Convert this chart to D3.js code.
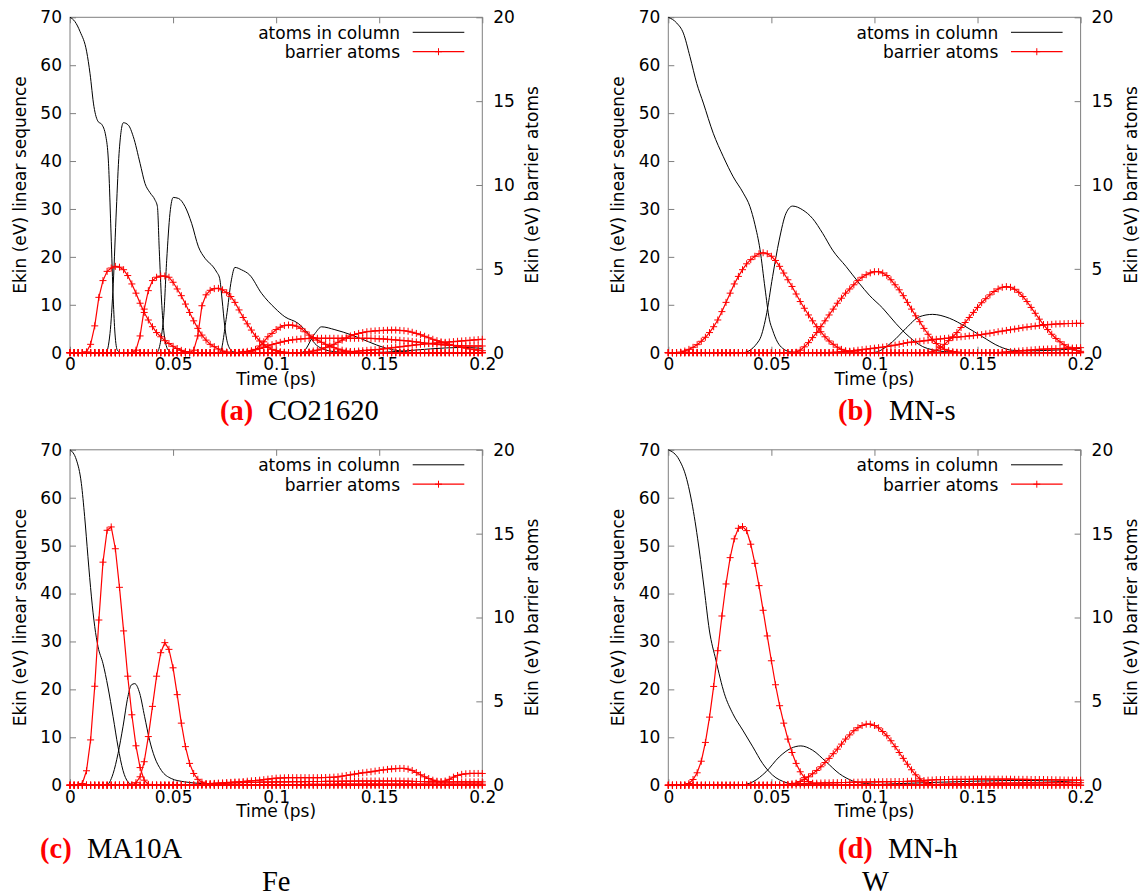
<!DOCTYPE html>
<html><head><meta charset="utf-8">
<script src="https://cdn.jsdelivr.net/npm/d3@7"></script>
<style>body{margin:0;background:#fff}svg{display:block}</style>
</head><body>
<svg id="chart" width="1143" height="896"></svg>
<script>
// ---------- data ----------
const xTicks = [0, 0.05, 0.1, 0.15, 0.2];
const xTickLabels = ["0", "0.05", "0.1", "0.15", "0.2"];
const yLeftTicks = [0, 10, 20, 30, 40, 50, 60, 70];
const yRightTicks = [0, 5, 10, 15, 20];
const legendLabels = ["atoms in column", "barrier atoms"];
const xTitle = "Time (ps)";
const yLeftTitle = "Ekin (eV) linear sequence";
const yRightTitle = "Ekin (eV) barrier atoms";

// sampling times (ps) of the barrier-atom series
const timeGrid = [0,0.002,0.004,0.006,0.008,0.01,0.012,0.014,0.016,0.018,
0.02,0.022,0.024,0.026,0.028,0.03,0.032,0.034,0.036,0.038,
0.04,0.042,0.044,0.046,0.048,0.05,0.052,0.054,0.056,0.058,
0.06,0.062,0.064,0.066,0.068,0.07,0.072,0.074,0.076,0.078,
0.08,0.082,0.084,0.086,0.088,0.09,0.092,0.094,0.096,0.098,
0.1,0.102,0.104,0.106,0.108,0.11,0.112,0.114,0.116,0.118,
0.12,0.122,0.124,0.126,0.128,0.13,0.132,0.134,0.136,0.138,
0.14,0.142,0.144,0.146,0.148,0.15,0.152,0.154,0.156,0.158,
0.16,0.162,0.164,0.166,0.168,0.17,0.172,0.174,0.176,0.178,
0.18,0.182,0.184,0.186,0.188,0.19,0.192,0.194,0.196,0.198,0.2];

// ---- panel (a) CO21620 ----
const colA1 = [[0,70],[0.0024,69.1],[0.0049,67],[0.0081,62.8],[0.0097,58.3],[0.0116,51.4],[0.0137,48.2],[0.0153,47.7],[0.0174,45.1],[0.0186,40.2],[0.0199,25],[0.021,11],[0.0218,4.1],[0.023,0.5],[0.025,0],[0.2,0]];
const colA2 = [[0,0],[0.0174,0],[0.0194,4],[0.021,14.5],[0.0225,30],[0.0238,41.6],[0.0259,48],[0.0283,47.5],[0.0307,45.1],[0.034,39.5],[0.0364,35.3],[0.0388,33.4],[0.0412,31.9],[0.0424,30.5],[0.0433,21.5],[0.0444,11],[0.0456,4.1],[0.0477,0.5],[0.05,0],[0.2,0]];
const colA3 = [[0,0],[0.042,0],[0.0453,6.8],[0.0469,19.3],[0.0485,29.1],[0.0501,32.4],[0.0526,32.2],[0.0558,30.5],[0.059,27],[0.0623,22.1],[0.0655,19.7],[0.0695,17.9],[0.0712,16.8],[0.0726,15.5],[0.0738,11],[0.0751,5.4],[0.0767,1.6],[0.0791,0.2],[0.081,0],[0.2,0]];
const colA4 = [[0,0],[0.0727,0],[0.0759,7.5],[0.0783,15.2],[0.08,17.8],[0.0832,17.3],[0.0872,16.2],[0.0929,12.4],[0.0994,9.3],[0.1042,7.5],[0.1107,6.1],[0.1155,4],[0.1188,1.9],[0.122,0.9],[0.1285,0.2],[0.135,0],[0.2,0]];
const colA5 = [[0,0],[0.1123,0],[0.1188,4],[0.122,5.4],[0.1285,4.8],[0.1366,3.7],[0.1447,2.3],[0.1528,1],[0.161,0.3],[0.168,0],[0.2,0]];
const colA6 = [[0,0],[0.145,0],[0.16,0.3],[0.175,0.8],[0.19,1.1],[0.2,0.9]];

const barA1 = [0,0,0,0,0.05,0.5,1.6,3.3,4.3,4.85,
5.05,5.15,5.1,4.95,4.6,4.1,3.55,2.95,2.4,1.95,
1.55,1.2,0.95,0.72,0.55,0.38,0.25,0.14,0.07,0.03,
0,0,0,0,0,0,0,0,0,0, 0,0,0,0,0,0,0,0,0,0, 0,0,0,0,0,0,0,0,0,0,
0,0,0,0,0,0,0,0,0,0, 0,0,0,0,0,0,0,0,0,0, 0,0,0,0,0,0,0,0,0,0,
0,0,0,0,0,0,0,0,0,0, 0];
const barA2 = [0,0,0,0,0,0,0,0,0,0,
0,0,0,0,0,0,0.15,1.0,2.6,3.7,
4.3,4.5,4.57,4.57,4.5,4.2,3.8,3.4,2.9,2.4,
1.9,1.45,1.05,0.75,0.5,0.36,0.22,0.1,0.04,0,
0,0,0,0,0,0,0,0,0,0, 0,0,0,0,0,0,0,0,0,0, 0,0,0,0,0,0,0,0,0,0,
0,0,0,0,0,0,0,0,0,0, 0,0,0,0,0,0,0,0,0,0, 0,0,0,0,0,0,0,0,0,0, 0];
const barA3 = [0,0,0,0,0,0,0,0,0,0, 0,0,0,0,0,0,0,0,0,0, 0,0,0,0,0,0,0,0,0,0,
0.15,1.0,2.8,3.45,3.72,3.82,3.84,3.75,3.58,3.35,
3.0,2.55,2.1,1.72,1.35,0.98,0.7,0.48,0.32,0.2,
0.12,0.06,0.03,0,0,0,0,0,0,0,
0,0,0,0,0,0,0,0,0,0, 0,0,0,0,0,0,0,0,0,0, 0,0,0,0,0,0,0,0,0,0, 0,0,0,0,0,0,0,0,0,0, 0];
const barA4 = [0,0,0,0,0,0,0,0,0,0, 0,0,0,0,0,0,0,0,0,0, 0,0,0,0,0,0,0,0,0,0, 0,0,0,0,0,0,0,0,0,0,
0,0,0,0,0.05,0.2,0.4,0.65,0.95,1.15,
1.38,1.52,1.62,1.65,1.64,1.58,1.45,1.25,1.05,0.9,
0.75,0.62,0.5,0.4,0.3,0.22,0.15,0.1,0.06,0.03,
0,0,0,0,0,0,0,0,0,0, 0,0,0,0,0,0,0,0,0,0, 0,0,0,0,0,0,0,0,0,0, 0];
const barA5 = [0,0,0,0,0,0,0,0,0,0, 0,0,0,0,0,0,0,0,0,0, 0,0,0,0,0,0,0,0,0,0, 0,0,0,0,0,0,0,0,0,0,
0,0.02,0.05,0.08,0.12,0.18,0.25,0.32,0.4,0.48,
0.55,0.62,0.68,0.73,0.77,0.8,0.82,0.84,0.85,0.86,
0.86,0.86,0.86,0.86,0.86,0.86,0.86,0.86,0.86,0.86,
0.86,0.86,0.86,0.85,0.84,0.83,0.82,0.8,0.78,0.76,
0.74,0.72,0.7,0.67,0.64,0.61,0.58,0.55,0.52,0.5,
0.48,0.46,0.44,0.43,0.42,0.41,0.4,0.4,0.4,0.4, 0.4];
const barA6 = [0,0,0,0,0,0,0,0,0,0, 0,0,0,0,0,0,0,0,0,0, 0,0,0,0,0,0,0,0,0,0, 0,0,0,0,0,0,0,0,0,0, 0,0,0,0,0,0,0,0,0,0,
0,0,0,0,0,0,0,0.02,0.05,0.1,
0.15,0.22,0.3,0.4,0.5,0.62,0.75,0.88,1.0,1.08,
1.15,1.2,1.25,1.28,1.3,1.32,1.33,1.34,1.35,1.35,
1.33,1.31,1.28,1.22,1.15,1.07,0.98,0.89,0.8,0.72,
0.65,0.57,0.5,0.44,0.38,0.32,0.27,0.22,0.18,0.15, 0.12];
const barA7 = [0,0,0,0,0,0,0,0,0,0, 0,0,0,0,0,0,0,0,0,0, 0,0,0,0,0,0,0,0,0,0, 0,0,0,0,0,0,0,0,0,0, 0,0,0,0,0,0,0,0,0,0, 0,0,0,0,0,0,0,0,0,0,
0,0,0,0,0,0.01,0.03,0.05,0.07,0.08,
0.1,0.12,0.14,0.16,0.18,0.2,0.23,0.26,0.29,0.32,
0.35,0.38,0.41,0.44,0.47,0.5,0.52,0.54,0.56,0.58,
0.6,0.62,0.64,0.66,0.68,0.7,0.72,0.74,0.76,0.78, 0.8];

// ---- panel (b) MN-s ----
const colB1 = [[0,70],[0.0041,68.8],[0.0073,66.7],[0.0105,61.8],[0.0138,56.2],[0.017,52.1],[0.0218,45.8],[0.0267,40.9],[0.0315,36.7],[0.0364,33.3],[0.0396,30.5],[0.042,26.8],[0.0445,21.5],[0.0469,13.5],[0.049,7],[0.0506,4.7],[0.053,2.2],[0.0555,0.9],[0.06,0.1],[0.065,0],[0.2,0]];
const colB2 = [[0,0],[0.0361,0],[0.0441,2.6],[0.0474,7.5],[0.0506,15.9],[0.0538,23.5],[0.0571,29.1],[0.0603,30.6],[0.0652,29.8],[0.07,28],[0.0749,24.9],[0.0797,21.4],[0.0862,18],[0.0926,14.5],[0.0975,12],[0.104,9.3],[0.1104,6.1],[0.1169,3.3],[0.1233,1.3],[0.1282,0.6],[0.135,0.2],[0.145,0],[0.2,0]];
const colB3 = [[0,0],[0.0991,0],[0.1088,2.3],[0.1153,5.1],[0.1218,7.5],[0.1282,8],[0.1363,7.2],[0.1444,5.4],[0.1525,3.3],[0.1606,1.3],[0.167,0.5],[0.1767,0.4],[0.19,0.6],[0.2,0.9]];

const barB1 = [0,0,0,0.03,0.1,0.2,0.32,0.48,0.68,0.92,
1.2,1.55,1.95,2.45,3.0,3.55,4.1,4.55,4.95,5.3,
5.55,5.75,5.9,5.96,5.9,5.75,5.5,5.15,4.75,4.35,
3.95,3.5,3.05,2.65,2.25,1.9,1.55,1.25,0.95,0.7,
0.5,0.33,0.2,0.12,0.07,0.04,0.02,0,0,0,
0,0,0,0,0,0,0,0,0,0, 0,0,0,0,0,0,0,0,0,0, 0,0,0,0,0,0,0,0,0,0, 0,0,0,0,0,0,0,0,0,0, 0,0,0,0,0,0,0,0,0,0, 0];
const barB2 = [0,0,0,0,0,0,0,0,0,0, 0,0,0,0,0,0,0,0,0,0, 0,0,0,0,0,0,0,0,0,0,
0,0.03,0.15,0.35,0.6,0.9,1.2,1.55,1.9,2.25,
2.6,2.95,3.25,3.55,3.8,4.05,4.3,4.5,4.65,4.76,
4.83,4.83,4.75,4.6,4.35,4.05,3.75,3.4,3.0,2.6,
2.2,1.85,1.45,1.1,0.8,0.55,0.35,0.2,0.12,0.06,
0.03,0,0,0,0,0,0,0,0,0, 0,0,0,0,0,0,0,0,0,0, 0,0,0,0,0,0,0,0,0,0, 0];
const barB3 = [0,0,0,0,0,0,0,0,0,0, 0,0,0,0,0,0,0,0,0,0, 0,0,0,0,0,0,0,0,0,0, 0,0,0,0,0,0,0,0,0,0, 0,0,0,0,0,0,0,0,0,0, 0,0,0,0,0,0,0,0,0,0,
0,0,0,0,0.05,0.15,0.3,0.5,0.72,0.95,
1.2,1.5,1.8,2.1,2.4,2.7,2.98,3.22,3.45,3.65,
3.8,3.9,3.94,3.9,3.78,3.6,3.35,3.05,2.7,2.35,
2.0,1.68,1.38,1.1,0.85,0.65,0.48,0.33,0.22,0.14, 0.08];
const barB4 = [0,0,0,0,0,0,0,0,0,0, 0,0,0,0,0,0,0,0,0,0, 0,0,0,0,0,0,0,0,0,0, 0,0,0,0,0,0,0,0,0,0,
0.02,0.03,0.05,0.07,0.09,0.12,0.15,0.18,0.21,0.24,
0.27,0.3,0.33,0.37,0.41,0.45,0.5,0.55,0.6,0.63,
0.65,0.68,0.71,0.74,0.77,0.8,0.82,0.85,0.87,0.9,
0.92,0.95,0.97,1.0,1.02,1.05,1.08,1.12,1.16,1.2,
1.25,1.29,1.33,1.37,1.41,1.45,1.49,1.53,1.56,1.59,
1.62,1.65,1.67,1.69,1.71,1.72,1.73,1.74,1.74,1.75, 1.75];
const barB5 = [0,0,0,0,0,0,0,0,0,0, 0,0,0,0,0,0,0,0,0,0, 0,0,0,0,0,0,0,0,0,0, 0,0,0,0,0,0,0,0,0,0,
0,0,0,0,0,0,0,0,0,0, 0,0,0,0,0,0,0,0,0,0, 0,0,0,0,0,0,0,0,0,0, 0,0,0,0,0,0,0,0,0,0,
0,0.02,0.04,0.06,0.08,0.1,0.12,0.14,0.16,0.18,
0.2,0.21,0.22,0.23,0.24,0.25,0.26,0.27,0.28,0.29, 0.3];

// ---- panel (c) MA10A ----
const colC1 = [[0,70],[0.0031,67.9],[0.0055,63],[0.0071,56.1],[0.0087,47.7],[0.0104,39.3],[0.012,33.1],[0.0136,28.9],[0.016,25.4],[0.0184,20.5],[0.0209,14.3],[0.0233,8],[0.0257,3.1],[0.0281,0.7],[0.031,0],[0.2,0]];
const colC2 = [[0,0],[0.0176,0],[0.0209,2.4],[0.0233,6.6],[0.0257,12.2],[0.0281,18.5],[0.0297,20.9],[0.0314,21.2],[0.0338,19.2],[0.0362,14.3],[0.0386,9.4],[0.041,5.9],[0.0443,3.1],[0.0491,1.4],[0.0556,0.7],[0.0637,0.35],[0.075,0.1],[0.2,0.05]];

const barC1 = [0,0,0,0.1,0.86,2.7,5.9,9.85,13.3,15.2,
15.4,14.1,11.8,9.2,6.5,4.2,2.35,1.05,0.3,0.05,
0,0,0,0,0,0,0,0,0,0, 0,0,0,0,0,0,0,0,0,0, 0,0,0,0,0,0,0,0,0,0, 0,0,0,0,0,0,0,0,0,0,
0,0,0,0,0,0,0,0,0,0, 0,0,0,0,0,0,0,0,0,0, 0,0,0,0,0,0,0,0,0,0, 0,0,0,0,0,0,0,0,0,0, 0];
const barC2 = [0,0,0,0,0,0,0,0,0,0,
0,0,0,0,0,0,0.15,0.5,1.4,2.9,
4.7,6.5,7.9,8.5,8.1,7.0,5.4,3.7,2.3,1.3,
0.7,0.35,0.18,0.1,0.05,0,0,0,0,0,
0,0,0,0,0,0,0,0,0,0, 0,0,0,0,0,0,0,0,0,0, 0,0,0,0,0,0,0,0,0,0, 0,0,0,0,0,0,0,0,0,0,
0,0,0,0,0,0,0,0,0,0, 0,0,0,0,0,0,0,0,0,0, 0];
const barC3 = [0,0,0,0,0,0,0,0,0,0, 0,0,0,0,0,0,0,0,0,0, 0,0,0,0,0,0,0,0,0,0,
0,0.03,0.05,0.07,0.09,0.11,0.12,0.13,0.15,0.17,
0.19,0.2,0.22,0.24,0.26,0.28,0.3,0.33,0.36,0.39,
0.42,0.43,0.44,0.45,0.45,0.45,0.45,0.45,0.45,0.45,
0.45,0.45,0.46,0.47,0.48,0.5,0.54,0.58,0.62,0.66,
0.7,0.74,0.77,0.8,0.84,0.88,0.91,0.94,0.97,0.99,
1.0,1.0,0.96,0.88,0.76,0.62,0.5,0.4,0.3,0.24,
0.2,0.19,0.19,0.2,0.2,0.2,0.2,0.2,0.2,0.2, 0.2];
const barC4 = [0,0,0,0,0,0,0,0,0,0, 0,0,0,0,0,0,0,0,0,0, 0,0,0,0,0,0,0,0,0,0,
0,0.02,0.04,0.06,0.08,0.1,0.11,0.12,0.13,0.14,
0.15,0.15,0.16,0.16,0.17,0.17,0.18,0.18,0.19,0.19,
0.2,0.2,0.2,0.2,0.21,0.21,0.21,0.21,0.22,0.22,
0.22,0.22,0.23,0.23,0.23,0.23,0.24,0.24,0.24,0.24,
0.25,0.25,0.25,0.25,0.25,0.25,0.25,0.25,0.25,0.25,
0.25,0.24,0.24,0.23,0.22,0.22,0.21,0.2,0.2,0.2,
0.2,0.25,0.35,0.48,0.58,0.65,0.68,0.7,0.7,0.7, 0.7];
const barC5 = [0,0,0,0,0,0,0,0,0,0, 0,0,0,0,0,0,0,0,0,0, 0,0,0,0,0,0,0,0,0,0, 0,0,0,0,0,0,0,0,0,0, 0,0,0,0,0,0,0,0,0,0,
0.01,0.01,0.02,0.02,0.03,0.03,0.04,0.04,0.05,0.05,
0.05,0.05,0.05,0.05,0.05,0.06,0.06,0.06,0.06,0.06,
0.06,0.06,0.06,0.06,0.06,0.06,0.06,0.06,0.06,0.06,
0.06,0.06,0.06,0.06,0.06,0.06,0.06,0.06,0.06,0.06,
0.06,0.06,0.06,0.06,0.06,0.06,0.06,0.06,0.06,0.06, 0.06];

// ---- panel (d) MN-h ----
const colD1 = [[0,70],[0.0053,67.9],[0.0086,64.4],[0.0118,58.1],[0.015,49.1],[0.0175,40.7],[0.0199,32.4],[0.0231,26.1],[0.0272,19.1],[0.0312,15],[0.0361,11.5],[0.041,8],[0.0458,4.5],[0.0506,2.1],[0.0571,0.56],[0.062,0.14],[0.07,0],[0.2,0]];
const colD2 = [[0,0],[0.0344,0],[0.041,0.7],[0.0474,2.8],[0.0538,5.9],[0.0595,7.7],[0.0643,8.2],[0.07,7.3],[0.0765,4.9],[0.083,2.4],[0.0894,0.9],[0.096,0.35],[0.105,0.1],[0.2,0]];
const colD3 = [[0,0],[0.09,0],[0.11,0.3],[0.13,0.6],[0.15,0.85],[0.17,1.0],[0.19,0.8],[0.2,0.5]];

const barD1 = [0,0,0,0,0,0.1,0.34,0.74,1.43,2.55,
4.06,5.89,8.02,10.09,12.0,13.57,14.69,15.32,15.42,15.18,
14.37,13.23,11.9,10.43,8.9,7.42,5.99,4.74,3.7,2.75,
1.95,1.3,0.8,0.45,0.22,0.1,0.03,0,0,0,
0,0,0,0,0,0,0,0,0,0, 0,0,0,0,0,0,0,0,0,0, 0,0,0,0,0,0,0,0,0,0, 0,0,0,0,0,0,0,0,0,0,
0,0,0,0,0,0,0,0,0,0, 0,0,0,0,0,0,0,0,0,0, 0];
const barD2 = [0,0,0,0,0,0,0,0,0,0, 0,0,0,0,0,0,0,0,0,0,
0,0,0,0,0,0,0,0,0,0.02,
0.05,0.12,0.22,0.35,0.5,0.68,0.88,1.1,1.35,1.6,
1.88,2.15,2.45,2.75,3.0,3.25,3.43,3.56,3.64,3.64,
3.56,3.42,3.2,2.95,2.65,2.3,1.95,1.6,1.25,0.92,
0.62,0.38,0.2,0.1,0.05,0.02,0,0,0,0,
0,0,0,0,0,0,0,0,0,0, 0,0,0,0,0,0,0,0,0,0, 0,0,0,0,0,0,0,0,0,0, 0];
const barD3 = [0,0,0,0,0,0,0,0,0,0, 0,0,0,0,0,0,0,0,0,0,
0,0,0,0,0,0,0.01,0.02,0.04,0.05,
0.08,0.09,0.1,0.1,0.11,0.12,0.12,0.13,0.14,0.14,
0.15,0.15,0.16,0.16,0.17,0.18,0.18,0.19,0.19,0.2,
0.2,0.2,0.21,0.21,0.21,0.22,0.22,0.22,0.23,0.24,
0.25,0.26,0.28,0.3,0.31,0.33,0.33,0.34,0.34,0.35,
0.35,0.35,0.35,0.35,0.36,0.36,0.36,0.36,0.36,0.36,
0.36,0.36,0.36,0.36,0.35,0.35,0.35,0.35,0.34,0.34,
0.34,0.34,0.33,0.33,0.32,0.32,0.31,0.31,0.3,0.3, 0.3];
const barD4 = [0,0,0,0,0,0,0,0,0,0, 0,0,0,0,0,0,0,0,0,0, 0,0,0,0,0,0,0,0,0,0, 0,0,0,0,0,0,0,0,0,0, 0,0,0,0,0,0,0,0,0,0, 0,0,0,0,0,0,0,0,0,0,
0,0,0.01,0.02,0.03,0.04,0.05,0.06,0.07,0.08,
0.08,0.09,0.09,0.1,0.1,0.1,0.11,0.11,0.11,0.12,
0.12,0.12,0.12,0.13,0.13,0.13,0.13,0.14,0.14,0.14,
0.14,0.14,0.15,0.15,0.15,0.15,0.15,0.15,0.15,0.15, 0.15];

// captions
const captionLetters = ["(a)", "(b)", "(c)", "(d)"];
const captionNames = ["CO21620", "MN-s", "MA10A", "MN-h"];
const elementNames = ["Fe", "W"];

// ---------- layout ----------
const W = 412.3, H = 335.4;
const panels = [
  {left: 70,    top: 17.3, cols: [colA1, colA2, colA3, colA4, colA5, colA6], bars: [barA1, barA2, barA3, barA4, barA5, barA6, barA7],
   cap: {lx: 220, nx: 268, y: 420}},
  {left: 668.3, top: 17.3, cols: [colB1, colB2, colB3], bars: [barB1, barB2, barB3, barB4, barB5],
   cap: {lx: 838, nx: 889, y: 420}},
  {left: 70,    top: 449.8, cols: [colC1, colC2], bars: [barC1, barC2, barC3, barC4, barC5],
   cap: {lx: 40, nx: 87, y: 858}},
  {left: 668.3, top: 449.8, cols: [colD1, colD2, colD3], bars: [barD1, barD2, barD3, barD4],
   cap: {lx: 838, nx: 888, y: 858}}
];
const elemPos = [{x: 262, y: 891}, {x: 862, y: 891}];

const svg = d3.select("#chart");
const FONT = "'DejaVu Sans', sans-serif";
const FRAME = "#7f7f7f";

const x = d3.scaleLinear().domain([0, 0.2]).range([0, W]);
const yL = d3.scaleLinear().domain([0, 70]).range([H, 0]);
const yR = d3.scaleLinear().domain([0, 20]).range([H, 0]);

const blackLine = d3.line().x(d => x(d[0])).y(d => yL(d[1])).curve(d3.curveMonotoneX);
const redLine = d3.line().x((d, i) => x(timeGrid[i])).y(d => yR(d));
const plus = "M-3.5,0H3.5M0,-3.5V3.5";

panels.forEach((p, pi) => {
  const g = svg.append("g").attr("transform", `translate(${p.left},${p.top})`);

  // axes (ticks inward)
  const styleAxis = sel => {
    sel.select(".domain").remove();
    sel.selectAll(".tick line").attr("stroke", FRAME);
    sel.selectAll(".tick text").attr("fill", "#000").style("font-family", FONT).style("font-size", "17px");
  };
  g.append("g").attr("transform", `translate(0,${H})`)
    .call(d3.axisBottom(x).tickValues(xTicks).tickFormat((d, i) => xTickLabels[i]).tickSizeInner(-6).tickSizeOuter(0).tickPadding(5.5))
    .call(styleAxis);
  g.append("g")
    .call(d3.axisTop(x).tickValues(xTicks).tickFormat("").tickSizeInner(-6).tickSizeOuter(0))
    .call(styleAxis);
  g.append("g")
    .call(d3.axisLeft(yL).tickValues(yLeftTicks).tickFormat(d3.format("d")).tickSizeInner(-6).tickSizeOuter(0).tickPadding(8))
    .call(styleAxis);
  g.append("g").attr("transform", `translate(${W},0)`)
    .call(d3.axisRight(yR).tickValues(yRightTicks).tickFormat(d3.format("d")).tickSizeInner(-6).tickSizeOuter(0).tickPadding(11))
    .call(styleAxis);
  g.selectAll(".tick text").attr("font-size", null);

  g.append("rect").attr("x", 0).attr("y", 0).attr("width", W).attr("height", H)
    .attr("fill", "none").attr("stroke", FRAME).attr("stroke-width", 1);

  // titles
  const txt = (sel) => sel.style("font-family", FONT).style("font-size", "17px").attr("fill", "#000");
  g.append("text").attr("x", W / 2).attr("y", H + 32).attr("text-anchor", "middle").text(xTitle).call(txt);
  g.append("text").attr("transform", `translate(-50,${H / 2}) rotate(-90)`).attr("dy", "0.35em")
    .attr("text-anchor", "middle").text(yLeftTitle).call(txt);
  g.append("text").attr("transform", `translate(${W + 50},${H / 2}) rotate(-90)`).attr("dy", "0.35em")
    .attr("text-anchor", "middle").text(yRightTitle).call(txt);

  // black: atoms in column
  p.cols.forEach(c => {
    g.append("path").attr("d", blackLine(c)).attr("fill", "none").attr("stroke", "#000").attr("stroke-width", 1);
  });
  // red: barrier atoms
  p.bars.forEach(b => {
    g.append("path").attr("d", redLine(b)).attr("fill", "none").attr("stroke", "#ff0000").attr("stroke-width", 1.2);
    g.append("g").selectAll("path").data(b).join("path")
      .attr("transform", (d, i) => `translate(${x(timeGrid[i])},${yR(d)})`)
      .attr("d", plus).attr("stroke", "#ff0000").attr("stroke-width", 1).attr("fill", "none");
  });

  // legend
  const lg = g.append("g");
  lg.append("text").attr("x", W - 82.3).attr("y", 15 + 6.5).attr("text-anchor", "end").text(legendLabels[0]).call(txt);
  lg.append("line").attr("x1", W - 69.6).attr("x2", W - 18).attr("y1", 15).attr("y2", 15).attr("stroke", "#000").attr("stroke-width", 1);
  lg.append("text").attr("x", W - 82.3).attr("y", 34.4 + 6.5).attr("text-anchor", "end").text(legendLabels[1]).call(txt);
  lg.append("line").attr("x1", W - 69.6).attr("x2", W - 18).attr("y1", 34.4).attr("y2", 34.4).attr("stroke", "#ff0000").attr("stroke-width", 1.2);
  lg.append("path").attr("transform", `translate(${W - 43.8},34.4)`).attr("d", plus).attr("stroke", "#ff0000").attr("fill", "none");

  // caption
  svg.append("text").attr("x", p.cap.lx).attr("y", p.cap.y)
    .style("font-family", "'Liberation Serif', 'Times New Roman', serif").style("font-size", "28.5px")
    .style("font-weight", "bold").attr("fill", "#ff0000").text(captionLetters[pi]);
  svg.append("text").attr("x", p.cap.nx).attr("y", p.cap.y)
    .style("font-family", "'Liberation Serif', 'Times New Roman', serif").style("font-size", "28.5px")
    .attr("fill", "#000").text(captionNames[pi]);
});

elementNames.forEach((n, i) => {
  svg.append("text").attr("x", elemPos[i].x).attr("y", elemPos[i].y)
    .style("font-family", "'Liberation Serif', 'Times New Roman', serif").style("font-size", "28.5px")
    .attr("fill", "#000").text(n);
});
</script>
</body></html>
